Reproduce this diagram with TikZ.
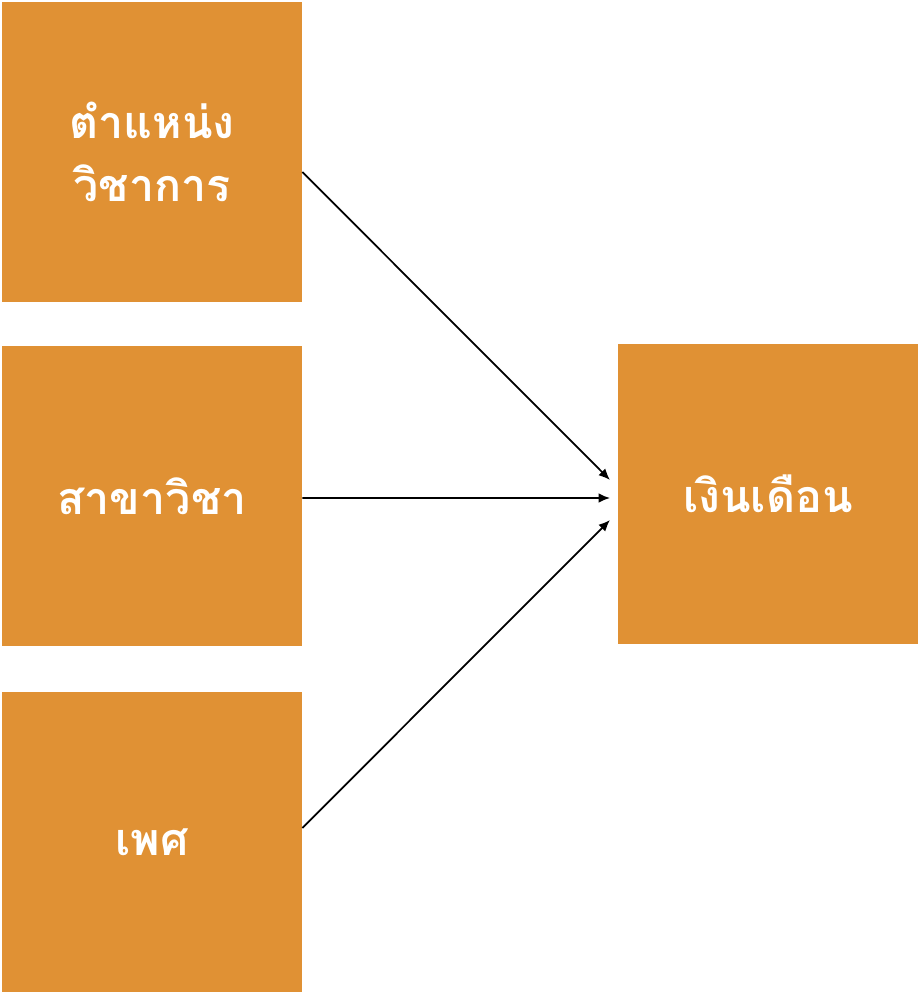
\documentclass[tikz,border=0pt]{standalone}
\usepackage{fontspec}
\newfontfamily\thaifont[Script=Thai]{Loma}
\usetikzlibrary{arrows.meta}
\definecolor{boxorange}{HTML}{E09134}
\begin{document}
\begin{tikzpicture}[
  factor/.style={fill=boxorange, minimum width=6cm, minimum height=6cm, inner sep=0pt,
    text=white, align=center, font=\thaifont\bfseries\fontsize{25.5}{36}\selectfont},
  link/.style={draw, line width=1pt, -{Latex[length=6.5pt,width=5.5pt]}}
]
\useasboundingbox (0,0) rectangle (18.4,-19.88);
\node[factor] (rank) at (3.04,-3.04) {ตำแหน่ง\\วิชาการ};
\node[factor] (field) at (3.04,-9.92) {สาขาวิชา};
\node[factor] (sex) at (3.04,-16.84) {เพศ};
\node[factor] (salary) at (15.36,-9.88) {เงินเดือน};
\coordinate (in1) at (12.2,-9.6);
\coordinate (in2) at (12.2,-9.96);
\coordinate (in3) at (12.2,-10.4);
\path[link] ([yshift=-0.4cm]rank.east) -- (in1);
\path[link] ([yshift=-0.04cm]field.east) -- (in2);
\path[link] ([yshift=0.28cm]sex.east) -- (in3);
\end{tikzpicture}
\end{document}
